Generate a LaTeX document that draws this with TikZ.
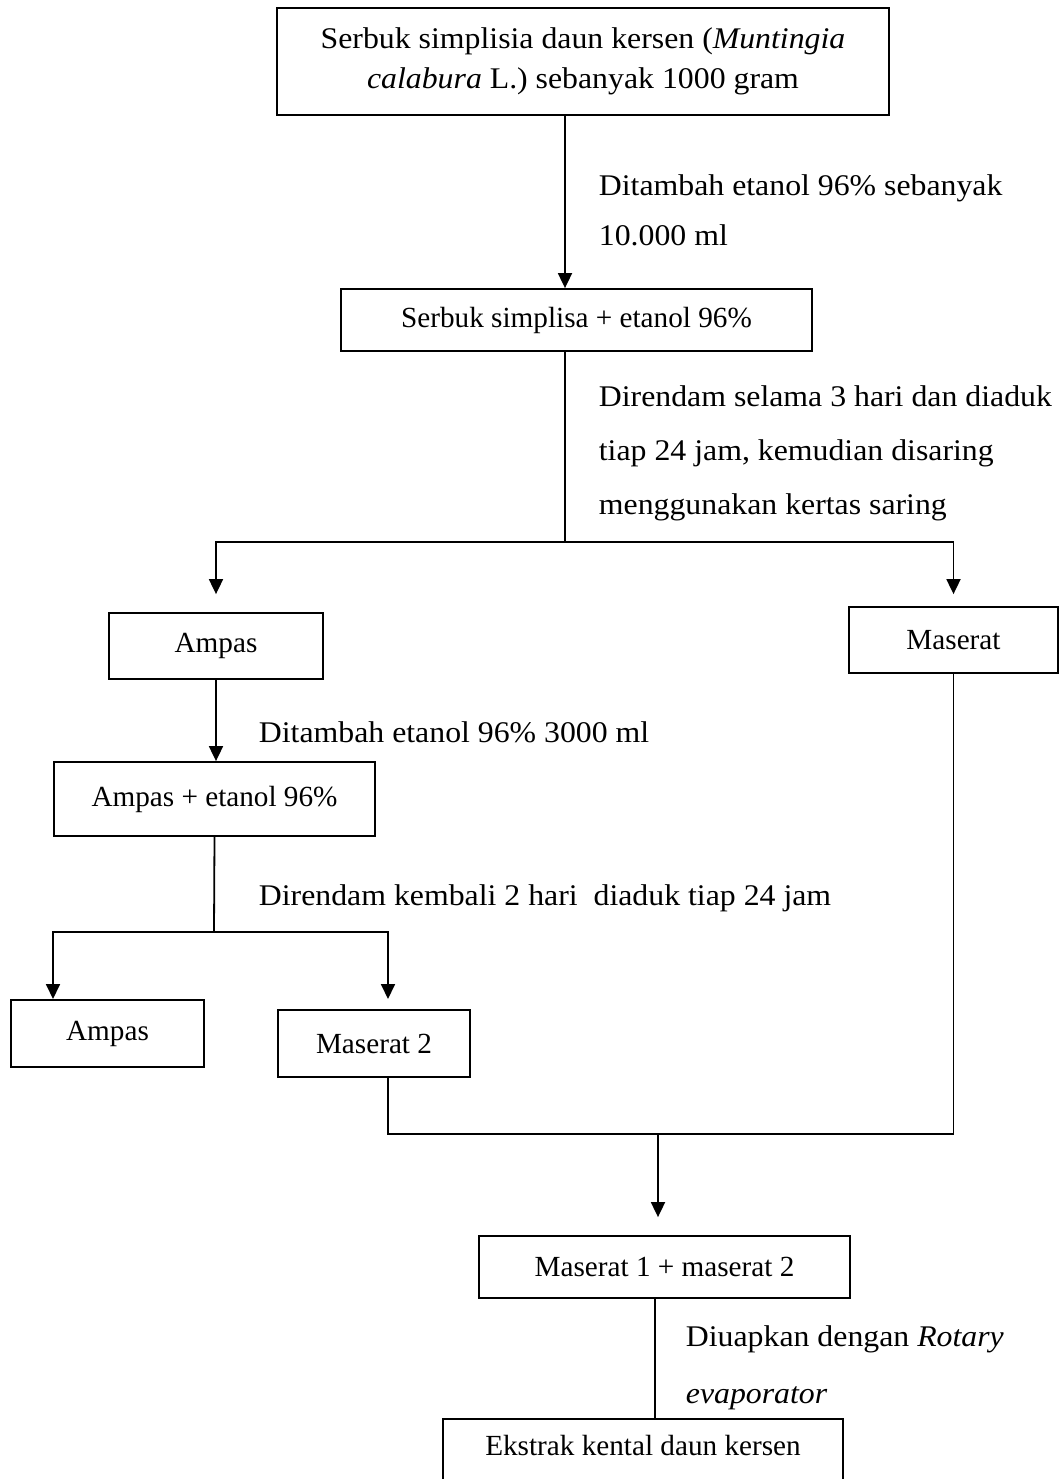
\documentclass[tikz,border=0pt]{standalone}
\usepackage{fontspec}
\setmainfont{Liberation Serif}
\newfontfamily\notefont{Liberation Serif}[FakeStretch=1.06]
\usetikzlibrary{arrows.meta,calc}

\begin{document}
\begin{tikzpicture}[x=.5pt,y=-.5pt,
  every node/.style={inner sep=0pt},
  proc/.style={draw,align=center,font=\fontsize{14.6}{18}\selectfont},
  note/.style={anchor=west,align=left,font=\notefont\fontsize{15}{26}\selectfont},
  arr/.style={-{Triangle[length=7.5pt,width=7pt]}},
  line width=.9pt]
\useasboundingbox (0,0) rectangle (1062,1479);

% boxes
\node[proc,minimum width=306pt,minimum height=53.5pt,
  font=\notefont\fontsize{15}{20}\selectfont] (top) at (583,61.5)
  {Serbuk simplisia daun kersen (\textit{Muntingia}\\
   \textit{calabura} L.) sebanyak 1000 gram};
\node[proc,minimum width=235.5pt,minimum height=31pt] (sim) at (576.5,320)
  {Serbuk simplisa + etanol 96\%};
\node[proc,minimum width=107pt,minimum height=33pt] (ampas) at (216,646) {Ampas};
\node[proc,minimum width=104.5pt,minimum height=33pt] (maserat) at (953.5,640) {Maserat};
\node[proc,minimum width=160.5pt,minimum height=37pt] (ampaset) at (214.5,799)
  {Ampas + etanol 96\%};
\node[proc,minimum width=96.5pt,minimum height=33.5pt] (ampasdua) at (107.5,1033.5) {Ampas};
\node[proc,minimum width=96pt,minimum height=33.5pt] (maseratdua) at (374,1043.5) {Maserat 2};
\node[proc,minimum width=185.5pt,minimum height=31pt] (campur) at (664.5,1267)
  {Maserat 1 + maserat 2};
\node[proc,anchor=north,minimum width=200pt,minimum height=45pt,
  text height=10pt,text depth=18pt] (ekstrak) at (643,1418)
  {Ekstrak kental daun kersen};

% labels
\node[note,font=\notefont\fontsize{15}{25}\selectfont] (lsatu) at (598,210)
  {Ditambah etanol 96\% sebanyak\\10.000 ml};
\node[note,font=\notefont\fontsize{15}{27}\selectfont] (ldua) at (598,453)
  {Direndam selama 3 hari dan diaduk\\tiap 24 jam, kemudian disaring\\menggunakan kertas saring};
\node[note] (ltiga) at (258,732) {Ditambah etanol 96\% 3000 ml};
\node[note] (lempat) at (258,898) {Direndam kembali 2 hari\ \ diaduk tiap 24 jam};
\node[note,font=\notefont\fontsize{15}{28.5}\selectfont] (llima) at (685,1368)
  {Diuapkan dengan \textit{Rotary}\\\textit{evaporator}};

% connectors
\coordinate (xa) at (565,0);
\coordinate (pisah) at (565,542);
\coordinate (pisahdua) at (214,932);
\coordinate (ujungA) at (53,999);
\coordinate (ujungM) at (388,999);
\coordinate (gabung) at (658,1134);
\coordinate (xb) at (655,0);

\draw[arr] (xa |- top.south) -- (xa |- sim.north);
\draw (xa |- sim.south) -- (pisah);
\draw[arr,shorten >=9pt] (pisah) -| (ampas.north);
\draw[arr,shorten >=6pt] (pisah) -| (maserat.north);
\draw[arr] (ampas.south) -- (ampas.south |- ampaset.north);
\draw (ampaset.south) -- (pisahdua);
\draw[arr] (pisahdua) -| (ujungA);
\draw[arr] (pisahdua) -| (ujungM);
\draw (ujungM |- maseratdua.south) |- (gabung) -| (maserat.south);
\draw[arr,shorten >=9pt] (gabung) -- (gabung |- campur.north);
\draw (xb |- campur.south) -- (xb |- ekstrak.north);
\end{tikzpicture}
\end{document}
